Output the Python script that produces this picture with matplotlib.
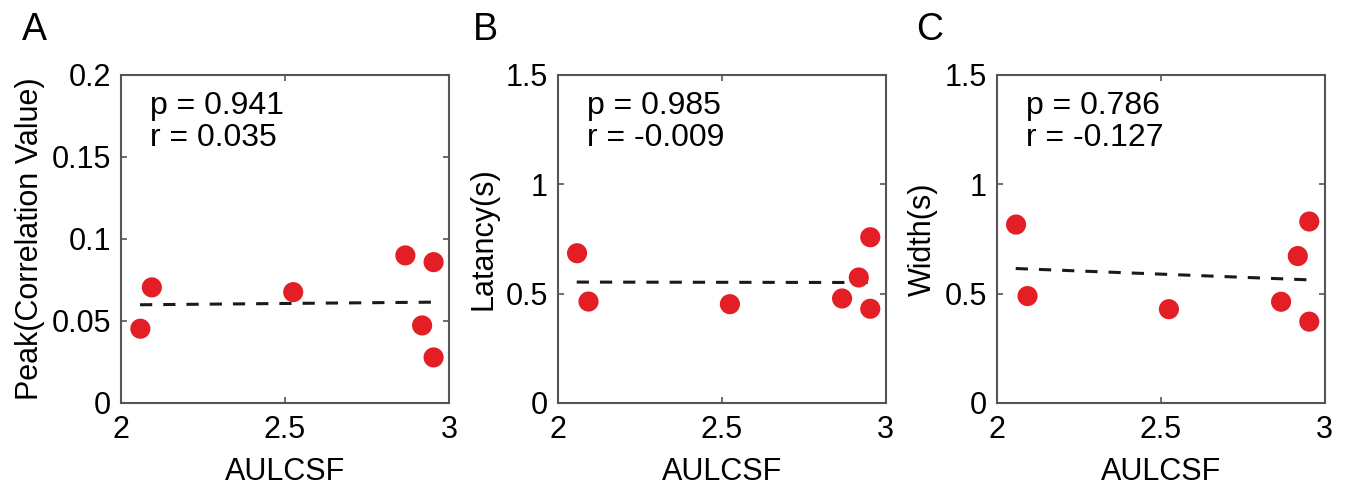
import matplotlib
matplotlib.use("Agg")
import matplotlib.pyplot as plt

plt.rcParams['font.family'] = ['Liberation Sans', 'DejaVu Sans']

# AULCSF per subject (same for all panels)
aulcsf = [2.059, 2.094, 2.525, 2.867, 2.918, 2.953, 2.953]

peak = [0.0453, 0.0705, 0.0676, 0.0900, 0.0473, 0.0859, 0.0278]
latency = [0.685, 0.464, 0.452, 0.478, 0.574, 0.758, 0.431]
width = [0.816, 0.489, 0.429, 0.463, 0.672, 0.830, 0.372]

# fitted line endpoints
fit_x = [2.058, 2.955]
fit_peak = [0.0599, 0.0615]
fit_latency = [0.553, 0.551]
fit_width = [0.615, 0.563]

stats = [("0.941", "0.035"), ("0.985", "-0.009"), ("0.786", "-0.127")]
ylabels = ["Peak(Correlation Value)", "Latancy(s)", "Width(s)"]
letters = ["A", "B", "C"]

xticks = [2, 2.5, 3]
xticklabels = ["2", "2.5", "3"]
yticks_a = [0, 0.05, 0.1, 0.15, 0.2]
yticklabels_a = ["0", "0.05", "0.1", "0.15", "0.2"]
yticks_bc = [0, 0.5, 1, 1.5]
yticklabels_bc = ["0", "0.5", "1", "1.5"]

fig = plt.figure(figsize=(13.45, 4.93), dpi=100)
lefts = [121 / 1345, 557.7 / 1345, 996.7 / 1345]
letter_x = [22 / 1345, 473 / 1345, 916 / 1345]
bottom = 90 / 493
w = 328 / 1345
h = 328 / 493

panels = [
    (peak, fit_peak, yticks_a, yticklabels_a, 0.2),
    (latency, fit_latency, yticks_bc, yticklabels_bc, 1.5),
    (width, fit_width, yticks_bc, yticklabels_bc, 1.5),
]

for i, (vals, fit, yt, ytl, ymax) in enumerate(panels):
    ax = fig.add_axes([lefts[i], bottom, w, h])
    ax.plot(fit_x, fit, color='#1a1a1a', lw=2.2, dashes=(4.0, 3.6), zorder=2)
    ax.scatter(aulcsf, vals, s=210, color='#e31e24', edgecolors='none', zorder=3)
    ax.set_xlim(2, 3)
    ax.set_ylim(0, ymax)
    ax.set_xticks(xticks)
    ax.set_xticklabels(xticklabels)
    ax.set_yticks(yt)
    ax.set_yticklabels(ytl)
    ax.tick_params(direction='in', length=4, width=1.2, color='#555555',
                   labelsize=22, top=True, right=True)
    ax.tick_params(axis='x', pad=9)
    ax.tick_params(axis='y', pad=7)
    for sp in ax.spines.values():
        sp.set_color('#555555')
        sp.set_linewidth(1.5)
    ax.set_xlabel("AULCSF", fontsize=22, labelpad=8)
    ax.set_ylabel(ylabels[i], fontsize=22, labelpad=5)
    p, r = stats[i]
    ax.text(0.088, 0.952, f"p = {p}\nr = {r}", transform=ax.transAxes,
            fontsize=23, va='top', ha='left', linespacing=1.1)
    fig.text(letter_x[i], 1 - 40 / 493, letters[i], fontsize=27,
             ha='left', va='baseline')

fig.savefig("out.png", dpi=100)
